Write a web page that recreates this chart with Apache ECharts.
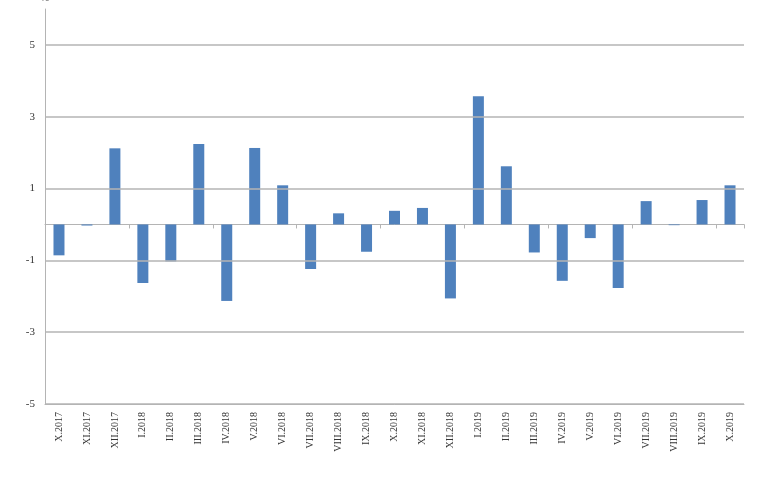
<!DOCTYPE html>
<html>
<head>
<meta charset="utf-8">
<script src="https://cdn.jsdelivr.net/npm/echarts@6/dist/echarts.min.js"></script>
<style>html,body{margin:0;padding:0;background:#fff}#c{width:768px;height:485px}</style>
</head>
<body>
<div id="c"></div>
<script>
var categories = ['X.2017','XI.2017','XII.2017','I.2018','II.2018','III.2018','IV.2018','V.2018','VI.2018','VII.2018','VIII.2018','IX.2018','X.2018','XI.2018','XII.2018','I.2019','II.2019','III.2019','IV.2019','V.2019','VI.2019','VII.2019','VIII.2019','IX.2019','X.2019'];
var values = [-0.86,-0.03,2.12,-1.63,-1.03,2.24,-2.13,2.13,1.09,-1.24,0.31,-0.76,0.38,0.46,-2.06,3.57,1.62,-0.78,-1.57,-0.38,-1.77,0.65,-0.02,0.68,1.09];
var yTicks = [-5,-3,-1,1,3,5];
var yMin = -5, yMax = 6;
var unitLabel = '%';

var gridColor = '#b4b4b4';
var font = '"Liberation Serif", "DejaVu Serif", serif';

var chart = echarts.init(document.getElementById('c'), null, {renderer: 'canvas'});
chart.setOption({
  animation: false,
  grid: {left: 45, right: 24, top: 9, bottom: 81, containLabel: false, outerBoundsMode: 'none'},
  xAxis: [{
    type: 'category',
    data: categories,
    position: 'bottom',
    axisLine: {show: true, onZero: false, lineStyle: {color: gridColor, width: 1}},
    axisTick: {show: false},
    axisLabel: {rotate: 90, margin: 8, fontFamily: font, fontSize: 10, color: '#333', interval: 0},
    splitLine: {show: false}
  }, {
    type: 'category',
    data: categories,
    position: 'top',
    axisLine: {show: true, onZero: true, lineStyle: {color: gridColor, width: 1}},
    axisTick: {show: true, inside: true, length: 4, lineStyle: {color: gridColor}},
    axisLabel: {show: false},
    splitLine: {show: false}
  }],
  yAxis: {
    type: 'value',
    min: yMin, max: yMax, interval: 1,
    name: unitLabel,
    nameLocation: 'end',
    nameGap: 6,
    nameTextStyle: {fontFamily: font, fontSize: 10, color: '#333', align: 'center'},
    axisLine: {show: true, lineStyle: {color: gridColor, width: 1}},
    axisTick: {show: false},
    splitLine: {show: false},
    axisLabel: {
      margin: 10, fontFamily: font, fontSize: 11, color: '#333',
      formatter: function (v) { return yTicks.indexOf(v) >= 0 ? String(v) : ''; }
    }
  },
  series: [{
    type: 'line',
    data: [],
    z: 1,
    silent: true,
    markLine: {
      silent: true,
      symbol: ['none', 'none'],
      label: {show: false},
      lineStyle: {color: gridColor, type: 'solid', width: 1.5},
      data: yTicks.map(function (t) { return {yAxis: t}; })
    }
  }, {
    type: 'bar',
    xAxisIndex: 0,
    data: values,
    barWidth: 11,
    z: 3,
    itemStyle: {color: '#4f81bd'}
  }]
});
</script>
</body>
</html>
